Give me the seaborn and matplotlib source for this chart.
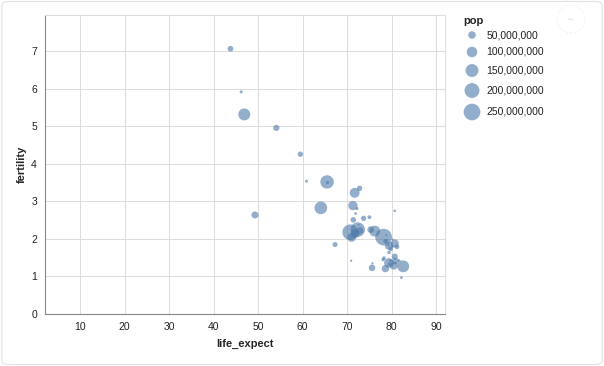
import numpy as np
import pandas as pd
import matplotlib
matplotlib.use("Agg")
import matplotlib.pyplot as plt
import seaborn as sns
from matplotlib.patches import FancyBboxPatch, Circle

# gapminder, one year
countries = ["Afghanistan", "Argentina", "Aruba", "Australia", "Austria", "Bahamas",
             "Bangladesh", "Barbados", "Belgium", "Bolivia", "Brazil", "Canada",
             "Chile", "Colombia", "Costa Rica", "Croatia", "Cuba", "Dominican Republic",
             "Ecuador", "Egypt", "El Salvador", "Finland", "France", "Georgia",
             "Germany", "Greece", "Grenada", "Haiti", "Hong Kong", "Iceland",
             "Indonesia", "Iran", "Iraq", "Ireland", "Israel", "Italy",
             "Jamaica", "Japan", "Kenya", "South Korea", "North Korea", "Lebanon",
             "Mexico", "Netherlands", "New Zealand", "Nigeria", "Norway", "Pakistan",
             "Peru", "Philippines", "Poland", "Portugal", "Rwanda", "Saudi Arabia",
             "South Africa", "Spain", "Switzerland", "Turkey", "United Kingdom",
             "United States", "Venezuela"]
life_expect = [43.8, 75.3, 74.2, 81.2, 79.8, 73.5,
               64.1, 76.7, 79.4, 65.6, 72.4, 80.7,
               78.6, 72.9, 78.8, 75.7, 78.3, 72.2,
               75.0, 71.3, 71.9, 79.3, 80.7, 70.9,
               79.4, 79.5, 68.7, 60.9, 82.2, 81.8,
               70.7, 71.0, 59.5, 78.9, 80.7, 80.5,
               72.6, 82.6, 54.1, 78.6, 67.3, 72.0,
               76.2, 79.8, 80.2, 46.9, 80.2, 65.5,
               71.4, 71.7, 75.6, 78.1, 46.2, 72.8,
               49.3, 80.9, 81.7, 71.8, 79.4,
               78.2, 73.7]
fertility = [7.07, 2.25, 1.79, 1.79, 1.42, 2.0,
             2.83, 1.5, 1.64, 3.5, 2.25, 1.53,
             1.94, 2.22, 2.1, 1.35, 1.49, 2.81,
             2.58, 2.89, 2.68, 1.83, 1.88, 1.42,
             1.36, 1.33, 2.3, 3.54, 0.97, 2.05,
             2.18, 2.04, 4.26, 1.97, 2.75, 1.29,
             2.38, 1.27, 4.96, 1.21, 1.85, 2.21,
             2.21, 1.73, 1.99, 5.32, 1.8, 3.52,
             2.51, 3.23, 1.23, 1.45, 5.92, 3.35,
             2.64, 1.41, 1.42, 2.14, 1.82,
             2.05, 2.55]
pop_millions = [29.9, 39.5, 0.07, 20.1, 8.2, 0.3,
                144.3, 0.27, 10.4, 8.9, 186.1, 32.8,
                16.1, 42.9, 4.0, 4.5, 11.3, 9.0,
                13.4, 77.5, 6.7, 5.2, 60.7, 4.7,
                82.4, 10.7, 0.09, 8.1, 6.9, 0.3,
                219.0, 68.0, 26.1, 4.0, 6.3, 58.1,
                2.7, 127.4, 34.0, 48.4, 22.9, 3.8,
                106.2, 16.4, 4.0, 128.8, 4.6, 162.4,
                27.9, 87.9, 38.6, 10.6, 8.4, 26.4,
                44.3, 40.3, 7.5, 69.7, 60.4,
                295.7, 25.4]

legend_pops = [50e6, 100e6, 150e6, 200e6, 250e6]
legend_labels = ["50,000,000", "100,000,000", "150,000,000", "200,000,000", "250,000,000"]

df = pd.DataFrame({
    "country": countries,
    "life_expect": life_expect,
    "fertility": fertility,
    "pop": np.array(pop_millions) * 1e6,
})

point_color = "#4c78a8"
point_alpha = 0.6
max_area = 144.5  # pt^2 for 250M

sns.set_style("white")
plt.rcParams["font.family"] = ["Liberation Sans", "DejaVu Sans"]

fig = plt.figure(figsize=(6.04, 3.66), dpi=100)
ax = fig.add_axes([0.075, 0.1421, 0.6618, 0.8169])

sns.scatterplot(
    data=df, x="life_expect", y="fertility", size="pop",
    sizes=(0, max_area), size_norm=(0, 250e6),
    color=point_color, alpha=point_alpha, linewidth=0,
    legend=False, ax=ax, zorder=3
)

ax.set_xlim(2.2, 92.0)
ax.set_ylim(0, 7.97)
ax.set_xticks(range(10, 100, 10))
ax.set_yticks(range(0, 8))
ax.grid(True, color="#dddddd", linewidth=0.75)
ax.set_axisbelow(True)

for side in ["left", "bottom"]:
    ax.spines[side].set_color("#888888")
    ax.spines[side].set_linewidth(0.8)
for side in ["top", "right"]:
    ax.spines[side].set_color("#dddddd")
    ax.spines[side].set_linewidth(0.75)
ax.tick_params(axis="both", direction="out", length=4, width=0.75,
               color="#888888", labelsize=7.5, labelcolor="#222222", pad=2)

ax.set_xlabel("life_expect", fontsize=8, fontweight="bold", labelpad=5)
ax.set_ylabel("fertility", fontsize=8, fontweight="bold", labelpad=3)

# size legend, laid out in pixel coordinates like the vega legend
lax = fig.add_axes([0, 0, 1, 1], facecolor="none")
lax.set_xlim(0, 604)
lax.set_ylim(366, 0)
lax.axis("off")
row_y = [35, 52, 70.5, 90.5, 112]
lax.scatter([472] * len(legend_pops), row_y,
            s=[max_area * p / 250e6 for p in legend_pops],
            color=point_color, alpha=point_alpha, linewidth=0)
for y, lab in zip(row_y, legend_labels):
    lax.text(486.5, y, lab, fontsize=7.5, va="center", ha="left", color="#222222")
lax.text(463, 21, "pop", fontsize=8, fontweight="bold", va="center", ha="left",
         color="#222222")

# embed frame and action button
fig.patches.append(FancyBboxPatch((0.003, 0.004), 0.994, 0.992,
                                  boxstyle="round,pad=0,rounding_size=0.012",
                                  transform=fig.transFigure, fill=False,
                                  edgecolor="#e2e2e2", linewidth=0.8))
fig.patches.append(Circle((5.71, 3.47), 0.14, transform=fig.dpi_scale_trans,
                          fill=False, edgecolor="#eeeeee", linewidth=0.6,
                          linestyle=(0, (2, 2))))
fig.text(0.9455, 0.948, "•••", ha="center", va="center", fontsize=4,
         color="#d8d8d8")

fig.savefig("out.png", dpi=100, facecolor="white")
